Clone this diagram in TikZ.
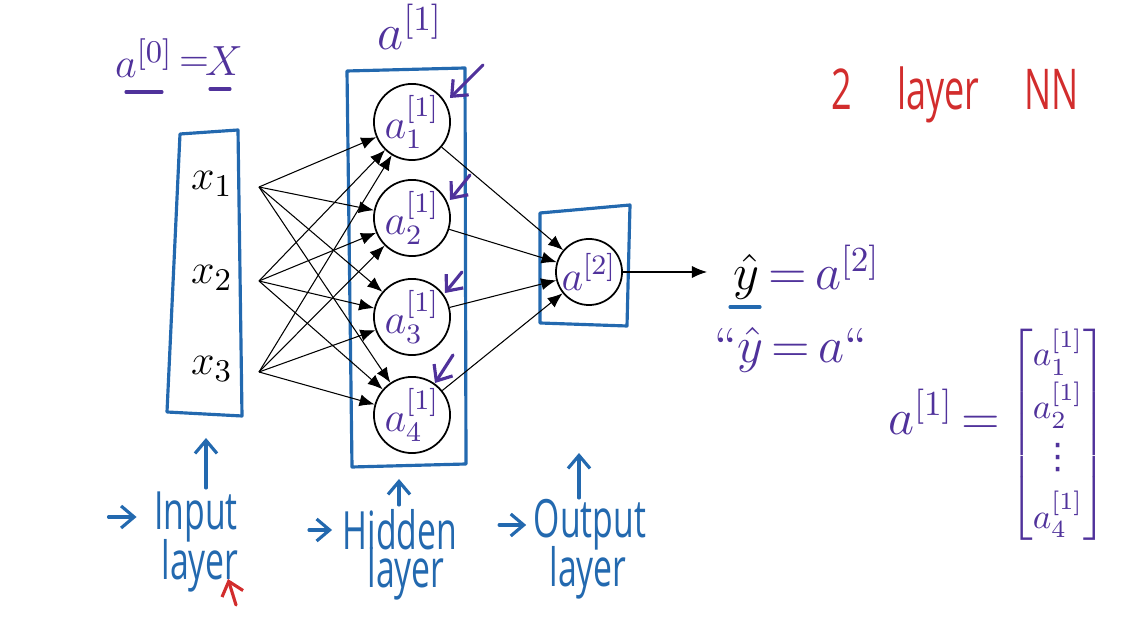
\documentclass[tikz,border=0pt]{standalone}
\usepackage{amsmath}
\usepackage{fontspec}
\newfontfamily\handfont{Open Sans}
\newfontfamily\dotsfont{DejaVu Sans}
\usetikzlibrary{arrows.meta, positioning}
\definecolor{cPen}{RGB}{35,105,175}
\definecolor{cInk}{RGB}{80,50,155}
\definecolor{cRed}{RGB}{210,45,45}
\newcommand{\hand}[1]{\scalebox{0.64}[1]{\handfont #1}}
\tikzset{
	neuron/.style={circle, draw=black, line width=0.5pt, minimum size=0.66cm, inner sep=0pt, text=cInk, font=\fontsize{12}{14}\selectfont},
	wire/.style={-{Latex[length=1.5mm, width=1.2mm]}, line width=0.3pt},
	penbox/.style={draw=cPen, line width=0.9pt, line cap=round, line join=round},
	penarrow/.style={cPen, line width=0.9pt, line cap=round, -{Straight Barb[length=1.3mm, width=2.2mm]}},
	inkarrow/.style={cInk, line width=0.9pt, line cap=round, -{Straight Barb[length=1.3mm, width=2.2mm]}},
	pentext/.style={text=cPen, font=\fontsize{15}{17}\selectfont, inner sep=0pt},
	inktext/.style={text=cInk, font=\fontsize{14}{16}\selectfont, inner sep=0pt},
}
\begin{document}
\begin{tikzpicture}[x=0.01cm, y=-0.01cm]
\useasboundingbox (0,0) rectangle (1139,631);

% hand-drawn layer boxes
\draw[penbox] (180,134) -- (238,130) -- (242,416) -- (167,412) -- cycle;
\draw[penbox] (347,71) -- (465,68) -- (466,464) -- (352,467) -- cycle;
\draw[penbox] (540,213) -- (630,205) -- (627,326) -- (540,323) -- cycle;

% input features
\foreach \i/\y in {1/187, 2/281, 3/372} {
	\node[font=\fontsize{13}{15}\selectfont] (x\i) at (212,\y-3) {$x_{\i}$};
	\coordinate (in\i) at (259,\y);
}

% hidden units and output unit
\foreach \j/\y in {1/122, 2/218, 3/317, 4/415}
	\node[neuron] (h\j) at (412,\y) {$a^{[1]}_{\j}$};
\node[neuron] (out) at (589,272) {$a^{[2]}$};

\foreach \i in {1,2,3}
	\foreach \j in {1,...,4}
		\draw[wire] (in\i) -- (h\j);
\foreach \j in {1,...,4}
	\draw[wire] (h\j) -- (out);
\coordinate (yend) at (707,272);
\draw[wire] (out) -- (yend);

% prediction
\node[anchor=west, font=\fontsize{14}{16}\selectfont, inner sep=0pt] (yhat) at (733,272) {$\hat{y}\,\textcolor{cInk}{{=}\,a^{[2]}}$};
\draw[cPen, line width=0.9pt, line cap=round] (730,307) -- (760,307);
\node[inktext, anchor=west] (quote) at (714,350) {``$\hat{y}\,{=}\,a$``};

% notation on top
\node[inktext, font=\fontsize{13}{15}\selectfont] (a0) at (144,58) {$a^{[0]}$};
\node[inktext, font=\fontsize{11}{13}\selectfont] (eq0) at (194,64) {$=$};
\node[inktext, font=\fontsize{12}{14}\selectfont] (xin) at (224,61) {$X$};
\draw[cInk, line width=0.9pt, line cap=round] (126,92) -- (162,92);
\draw[cInk, line width=0.9pt, line cap=round] (210,89) -- (230,89);
\node[inktext] (a1top) at (410,27) {$a^{[1]}$};
\node[text=cRed, font=\fontsize{16}{18}\selectfont, inner sep=0pt] (title) at (955,95) {\hand{2\quad\ layer\quad\ NN}};

% ticks pointing at the hidden units
\foreach \j/\sx/\sy/\ex/\ey in {1/483/65/450/98, 2/470/175/450/200, 3/462/272/445/293, 4/453/355/435/383} {
	\coordinate (t\j s) at (\sx,\sy);
	\coordinate (t\j e) at (\ex,\ey);
	\draw[inkarrow] (t\j s) -- (t\j e);
}

% vector of activations
\node[inktext, anchor=east] (avec) at (1001,412) {$a^{[1]}\,{=}$};
\node[text=cInk, font=\fontsize{10}{12}\selectfont, inner sep=0pt] (amat) at (1058,435) {$\begin{bmatrix} a^{[1]}_1\\[1pt] a^{[1]}_2\\[2pt] \text{\dotsfont ⋮}\\[3pt] a^{[1]}_4 \end{bmatrix}$};

% layer names
\node[pentext] (inlbl) at (196,517) {\hand{Input}};
\node[pentext] (inlay) at (200,566) {\hand{layer}};
\node[pentext] (hidlbl) at (400,530) {\hand{Hidden}};
\node[pentext] (hidlay) at (406,574) {\hand{layer}};
\node[pentext] (outlbl) at (590,525) {\hand{Output}};
\node[pentext] (outlay) at (588,573) {\hand{layer}};
\draw[penarrow] ([xshift=-0.45cm]inlbl.west) -- ([xshift=-0.17cm]inlbl.west);
\draw[penarrow] ([xshift=-0.33cm]hidlbl.west) -- ([xshift=-0.1cm]hidlbl.west);
\draw[penarrow] ([xshift=-0.34cm]outlbl.west) -- ([xshift=-0.07cm]outlbl.west);

\coordinate (inup0) at (206,488);
\coordinate (inup1) at (206,438);
\coordinate (hidup0) at (399,505);
\coordinate (hidup1) at (399,479);
\coordinate (outup0) at (579,498);
\coordinate (outup1) at (579,453);
\draw[penarrow] (inup0) -- (inup1);
\draw[penarrow] (hidup0) -- (hidup1);
\draw[penarrow] (outup0) -- (outup1);
\coordinate (red0) at (236,605);
\coordinate (red1) at (228,579);
\draw[cRed, line width=0.9pt, line cap=round, -{Straight Barb[length=1.3mm, width=2.2mm]}] (red0) -- (red1);
\end{tikzpicture}
\end{document}
